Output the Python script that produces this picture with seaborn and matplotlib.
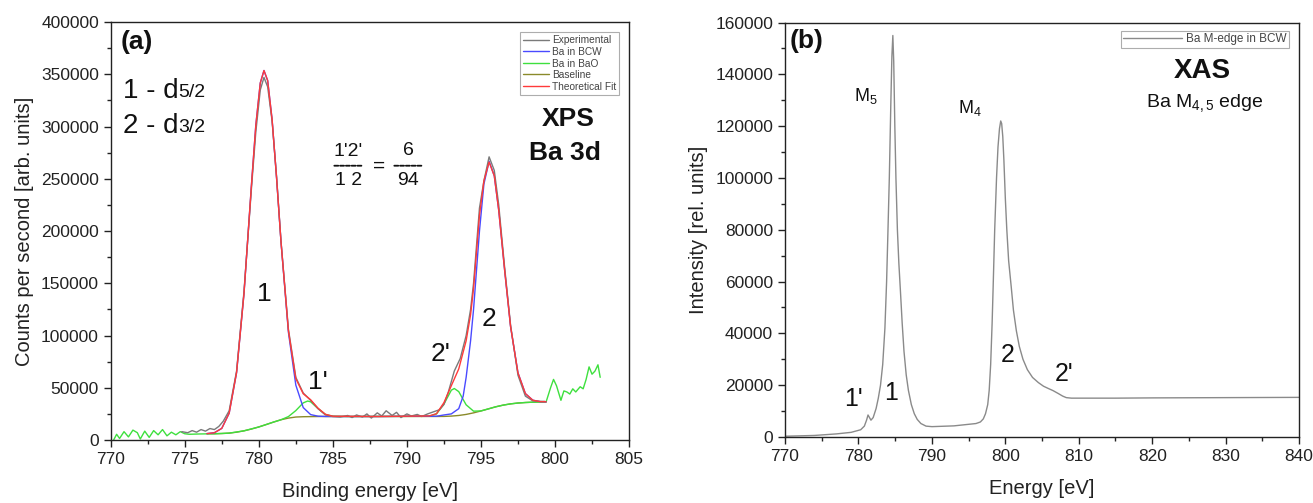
import numpy as np
import pandas as pd
import matplotlib
matplotlib.use("Agg")
import matplotlib.pyplot as plt
import seaborn as sns

# ---------------- Panel (a): XPS Ba 3d ----------------
exp_x = [774.8, 775.2, 775.5, 775.8, 776.1, 776.4, 776.7, 777.0, 777.3, 777.6, 778.0, 778.5,
         779.0, 779.5, 779.8, 780.1, 780.35, 780.6, 780.9, 781.2, 781.5, 782.0, 782.5, 783.0,
         783.5, 784.0, 784.5, 785.0, 785.5, 786.0, 786.3, 786.6, 787.0, 787.3, 787.6, 788.0,
         788.3, 788.6, 789.0, 789.3, 789.6, 790.0, 790.3, 790.7, 791.0, 791.4, 791.8, 792.2,
         792.5, 792.8, 793.2, 793.6, 794.0, 794.3, 794.5, 794.9, 795.2, 795.55, 795.9, 796.2,
         796.6, 797.0, 797.5, 798.0, 798.5, 799.0, 799.3]
exp_y = [8000, 7000, 9000, 7500, 10000, 8500, 11000, 10000, 13000, 18000, 28000, 66000,
         142000, 240000, 295000, 335000, 347000, 338000, 305000, 252000, 190000, 106000, 60000, 45000,
         38000, 30000, 24000, 22500, 22000, 23500, 21500, 24000, 22000, 25000, 21000, 26000,
         23000, 28000, 23500, 26500, 21500, 25000, 23000, 24500, 22500, 25000, 27000, 29000,
         34000, 46000, 66000, 78000, 100000, 125000, 150000, 222000, 248000, 271000, 258000, 225000,
         165000, 110000, 62000, 42000, 37500, 37000, 37000]

bcw_x = [776.5, 777.0, 777.5, 778.0, 778.5, 779.0, 779.5, 779.8, 780.1, 780.35, 780.6, 780.9,
         781.2, 781.5, 782.0, 782.5, 783.0, 783.5, 784.0, 784.5, 785.0, 788.0, 791.5, 792.0,
         792.5, 793.0, 793.5, 793.8, 794.0, 794.3, 794.5, 794.9, 795.2, 795.55, 795.9, 796.2,
         796.6, 797.0, 797.5, 798.0, 798.5, 799.0, 799.4]
bcw_y = [6150, 6980, 11140, 25720, 64550, 140060, 243200, 301300, 341650, 353600, 343950, 306400,
         250900, 189680, 103140, 52540, 31060, 24330, 22830, 22550, 22500, 22500, 22830, 22770,
         23970, 25000, 30000, 42000, 60000, 95000, 125000, 200000, 245000, 266800, 252800, 219900,
         162400, 108540, 64220, 44430, 38110, 36725, 36570]

bao_x = [770.2, 770.4, 770.6, 770.9, 771.2, 771.5, 771.8, 772.0, 772.3, 772.6, 772.9, 773.2,
         773.5, 773.8, 774.1, 774.4, 774.7, 775.0, 775.3, 776.0, 777.0, 778.0, 779.0, 780.0,
         781.0, 781.5, 782.0, 782.5, 783.0, 783.3, 783.5, 784.0, 784.5, 785.0, 786.0, 791.5,
         792.0, 792.5, 793.0, 793.2, 793.5, 794.0, 794.5, 795.0, 795.5, 796.0, 796.5, 797.0,
         797.5, 798.0, 798.5, 799.0, 799.4, 799.7, 799.9, 800.1, 800.4, 800.6, 800.8, 801.0,
         801.2, 801.4, 801.7, 801.9, 802.1, 802.3, 802.5, 802.7, 802.9, 803.05]
bao_y = [0, 5500, 1500, 8000, 3000, 9500, 7000, 1000, 8500, 2500, 9000, 5000,
         10000, 4000, 7500, 5000, 8000, 6000, 5500, 5800, 6000, 6600, 8800, 12500,
         17200, 19400, 22430, 28170, 35540, 37300, 36590, 30090, 24530, 22780, 22500, 22700,
         25000, 34400, 47700, 49300, 46340, 33700, 27620, 27850, 29800, 31800, 33400, 34600,
         35400, 35900, 36200, 36400, 36500, 50000, 58000, 52000, 38000, 47000, 46000, 44000,
         49000, 46000, 51000, 49000, 58000, 70000, 63000, 66000, 72000, 60000]

base_x = [776.5, 777.0, 777.5, 778.0, 778.5, 779.0, 779.5, 780.0, 780.5, 781.0, 781.5, 782.0,
          782.5, 783.0, 783.5, 784.0, 792.0, 792.5, 793.0, 793.5, 794.0, 794.5, 795.0, 795.5,
          796.0, 796.5, 797.0, 797.5, 798.0, 798.5, 799.0, 799.4]
base_y = [6000, 6000, 6200, 6600, 7500, 8800, 10500, 12500, 14800, 17200, 19400, 21000,
          22000, 22300, 22400, 22500, 22550, 22600, 22900, 23500, 24500, 26000, 27800, 29800,
          31800, 33400, 34600, 35400, 35900, 36200, 36400, 36500]

fit_x = [776.5, 777.0, 777.5, 778.0, 778.5, 779.0, 779.5, 779.8, 780.1, 780.35, 780.6, 780.9,
         781.2, 781.5, 782.0, 782.5, 783.0, 783.5, 784.0, 784.5, 785.0, 788.0, 791.5, 792.0,
         792.5, 793.0, 793.5, 794.0, 794.3, 794.5, 794.9, 795.2, 795.55, 795.9, 796.2, 796.6,
         797.0, 797.5, 798.0, 798.5, 799.0, 799.4]
fit_y = [6150, 6980, 11140, 25720, 64550, 140060, 243200, 301300, 341650, 353600, 343950, 306400,
         250900, 189680, 104570, 58710, 44300, 38520, 30420, 24580, 22780, 22500, 23050, 25220,
         35760, 52000, 68000, 95000, 120000, 145000, 215000, 248000, 266000, 252800, 219900, 162400,
         108540, 64220, 44430, 38110, 36725, 36570]

xps_labels = ["Experimental", "Ba in BCW", "Ba in BaO", "Baseline", "Theoretical Fit"]
xps_colors = ["#7a7a7a", "#4a4aff", "#3ee03e", "#8a8a2a", "#ff3a3a"]

# ---------------- Panel (b): XAS Ba M4,5 ----------------
xas_x = [770.0, 774.0, 777.0, 779.0, 780.3, 780.8, 781.1, 781.3, 781.5, 781.7, 782.0, 782.4,
         782.7, 783.0, 783.3, 783.6, 783.83, 784.0, 784.2, 784.4, 784.55, 784.68, 784.8, 784.95,
         785.1, 785.3, 785.5, 785.7, 785.95, 786.2, 786.5, 786.8, 787.2, 787.6, 788.0, 788.5,
         789.2, 790.0, 793.0, 796.0, 796.6, 797.0, 797.3, 797.6, 797.8, 798.0, 798.2, 798.34,
         798.55, 798.8, 799.0, 799.2, 799.37, 799.5, 799.65, 799.8, 800.0, 800.2, 800.45, 800.8,
         801.1, 801.5, 801.9, 802.4, 803.0, 803.7, 804.5, 805.2, 805.8, 806.5, 807.2, 807.8,
         808.3, 809.0, 815.0, 820.0, 830.0, 840.0]
xas_y = [300, 600, 1200, 1800, 2800, 4200, 6500, 8500, 7500, 6500, 7500, 11000,
         15000, 20000, 28000, 42000, 60000, 78000, 100000, 128000, 147000, 155000, 145000, 120000,
         100000, 80000, 67000, 57000, 44000, 33000, 24000, 18000, 12500, 9000, 6800, 5200,
         4200, 4000, 4300, 5200, 5800, 7000, 9000, 12500, 18000, 28000, 44000, 58000,
         80000, 100000, 112000, 119000, 122000, 121000, 116000, 107000, 92000, 80000, 68000, 58000,
         49000, 41000, 35000, 30000, 26000, 23000, 21000, 19600, 18800, 17900, 16800, 15800,
         15200, 15000, 15000, 15100, 15200, 15300]

# ---------------- Style ----------------
sns.set_theme(style="ticks")
plt.rcParams["font.family"] = ["Liberation Sans", "DejaVu Sans"]
plt.rcParams["mathtext.fontset"] = "custom"
plt.rcParams["mathtext.rm"] = "Liberation Sans"
plt.rcParams["mathtext.it"] = "Liberation Sans"
plt.rcParams["axes.edgecolor"] = "#222222"
plt.rcParams["axes.linewidth"] = 1.0

fig = plt.figure(figsize=(13.13, 5.03), dpi=100)
ax1 = fig.add_axes([0.0843, 0.1252, 0.3948, 0.831])
ax2 = fig.add_axes([0.5979, 0.1312, 0.3915, 0.824])


def style_axes(ax, xmaj, xmin, ymaj, ymin):
    for s in ax.spines.values():
        s.set_visible(True)
        s.set_color("#222222")
        s.set_linewidth(1.0)
    ax.xaxis.set_major_locator(matplotlib.ticker.MultipleLocator(xmaj))
    ax.xaxis.set_minor_locator(matplotlib.ticker.MultipleLocator(xmin))
    ax.yaxis.set_major_locator(matplotlib.ticker.MultipleLocator(ymaj))
    ax.yaxis.set_minor_locator(matplotlib.ticker.MultipleLocator(ymin))
    ax.tick_params(which="major", direction="out", length=5, width=1, labelsize=12.5,
                   top=False, right=False, colors="#222222", labelcolor="#222222")
    ax.tick_params(which="minor", direction="out", length=3, width=1,
                   top=False, right=False, colors="#222222")
    ax.yaxis.set_major_formatter(matplotlib.ticker.FuncFormatter(lambda v, p: f"{int(round(v))}"))
    ax.xaxis.set_major_formatter(matplotlib.ticker.FuncFormatter(lambda v, p: f"{int(round(v))}"))


series = [(exp_x, exp_y), (bcw_x, bcw_y), (bao_x, bao_y), (base_x, base_y), (fit_x, fit_y)]
order = [3, 2, 1, 0, 4]
for i in order:
    xs, ys = series[i]
    df = pd.DataFrame({"x": xs, "y": ys})
    sns.lineplot(data=df, x="x", y="y", ax=ax1, color=xps_colors[i], lw=1.0,
                 estimator=None, sort=False, label=xps_labels[i])
h, l = ax1.get_legend_handles_labels()
hmap = dict(zip(l, h))
leg = ax1.legend([hmap[k] for k in xps_labels], xps_labels, loc="upper right",
                 bbox_to_anchor=(0.985, 0.98), fontsize=7.3, frameon=True, fancybox=False,
                 edgecolor="#999999", handlelength=2.6, handletextpad=0.3, borderpad=0.3,
                 labelspacing=0.15, borderaxespad=0.2)
leg.get_frame().set_linewidth(0.8)
for t in leg.get_texts():
    t.set_color("#444444")

ax1.set_xlim(770, 805)
ax1.set_ylim(0, 400000)
style_axes(ax1, 5, 2.5, 50000, 25000)
ax1.set_xlabel("Binding energy [eV]", fontsize=14.5, color="#222222", labelpad=11)
ax1.set_ylabel("Counts per second [arb. units]", fontsize=14.5, color="#222222", labelpad=5)

txt = dict(color="#111111")
ax1.text(770.7, 381000, "(a)", fontsize=19, fontweight="bold", ha="left", va="center", **txt)
t1 = ax1.text(770.8, 334000, "1 - d", fontsize=20, ha="left", va="center", **txt)
ax1.annotate("5/2", xy=(1, 0.1), xycoords=t1, fontsize=14, ha="left", va="bottom", **txt)
t2 = ax1.text(770.8, 300600, "2 - d", fontsize=20, ha="left", va="center", **txt)
ax1.annotate("3/2", xy=(1, 0.1), xycoords=t2, fontsize=14, ha="left", va="bottom", **txt)
ax1.text(800.9, 307000, "XPS", fontsize=19, fontweight="bold", ha="center", va="center", **txt)
ax1.text(800.7, 275000, "Ba 3d", fontsize=19, fontweight="bold", ha="center", va="center", **txt)
# ratio annotation: numerators, dashed fraction bars, denominators
ax1.text(786.05, 276500, "1'2'", fontsize=14, ha="center", va="center", **txt)
ax1.text(786.05, 248000, "1 2", fontsize=14, ha="center", va="center", **txt)
ax1.text(788.1, 262000, "=", fontsize=15, ha="center", va="center", **txt)
ax1.text(790.1, 277500, "6", fontsize=14, ha="center", va="center", **txt)
ax1.text(790.1, 248000, "94", fontsize=14, ha="center", va="center", **txt)
for xc in (786.05, 790.1):
    ax1.annotate("", xy=(xc + 0.95, 262500), xytext=(xc - 0.95, 262500),
                 arrowprops=dict(arrowstyle="-", linestyle=(0, (2.2, 1.0)), lw=1.3,
                                 color="#111111", shrinkA=0, shrinkB=0))
# peak labels
ax1.text(780.34, 139600, "1", fontsize=19, ha="center", va="center", **txt)
ax1.text(784.0, 55100, "1'", fontsize=19, ha="center", va="center", **txt)
ax1.text(792.24, 82200, "2'", fontsize=19, ha="center", va="center", **txt)
ax1.text(795.57, 115700, "2", fontsize=19, ha="center", va="center", **txt)

# ---------------- Panel (b) drawing ----------------
dfb = pd.DataFrame({"x": xas_x, "y": xas_y})
sns.lineplot(data=dfb, x="x", y="y", ax=ax2, color="#8a8a8a", lw=1.0,
             estimator=None, sort=False, label="Ba M-edge in BCW")
leg2 = ax2.legend(loc="upper right", bbox_to_anchor=(0.985, 0.985), fontsize=8.5, frameon=True,
                  fancybox=False, edgecolor="#999999", handlelength=5.0, handletextpad=0.3,
                  borderpad=0.2, borderaxespad=0.2)
leg2.get_frame().set_linewidth(0.8)
for t in leg2.get_texts():
    t.set_color("#444444")

ax2.set_xlim(770, 840)
ax2.set_ylim(0, 160000)
style_axes(ax2, 10, 5, 20000, 10000)
ax2.set_xlabel("Energy [eV]", fontsize=14.5, color="#222222", labelpad=11)
ax2.set_ylabel("Intensity [rel. units]", fontsize=14.5, color="#222222", labelpad=5)

ax2.text(770.6, 152900, "(b)", fontsize=19, fontweight="bold", ha="left", va="center", **txt)
ax2.text(781.0, 131600, "M$_5$", fontsize=13, ha="center", va="center", **txt)
ax2.text(795.2, 127100, "M$_4$", fontsize=13, ha="center", va="center", **txt)
ax2.text(826.8, 141300, "XAS", fontsize=20, fontweight="bold", ha="center", va="center", **txt)
ax2.text(827.1, 129000, "Ba M$_{4,5}$ edge", fontsize=14, ha="center", va="center", **txt)
ax2.text(779.3, 14800, "1'", fontsize=18, ha="center", va="center", **txt)
ax2.text(784.5, 16800, "1", fontsize=18, ha="center", va="center", **txt)
ax2.text(800.3, 31600, "2", fontsize=18, ha="center", va="center", **txt)
ax2.text(808.0, 24500, "2'", fontsize=18, ha="center", va="center", **txt)

fig.savefig("out.png", dpi=100)
